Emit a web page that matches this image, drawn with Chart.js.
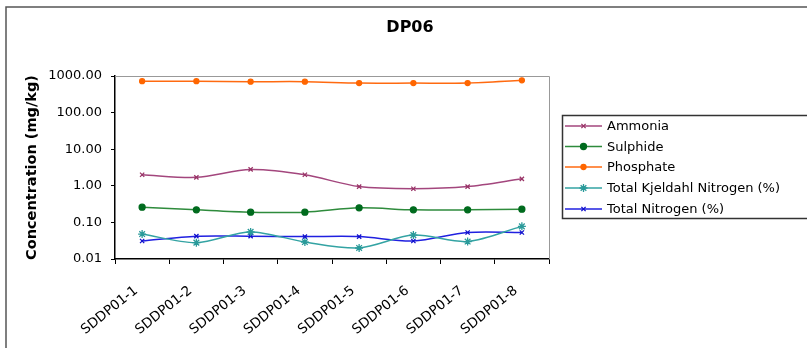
<!DOCTYPE html>
<html>
<head>
<meta charset="utf-8">
<script src="https://cdn.jsdelivr.net/npm/chart.js@4.4.1/dist/chart.umd.min.js"></script>
<style>
  body { margin: 0; background: #fff; }
  #wrap { width: 807px; height: 348px; }
</style>
</head>
<body>
<div id="wrap"><canvas id="myChart" width="807" height="348"></canvas></div>
<script>
// số liệu
const categories = ['SDDP01-1', 'SDDP01-2', 'SDDP01-3', 'SDDP01-4', 'SDDP01-5', 'SDDP01-6', 'SDDP01-7', 'SDDP01-8'];
const ammonia = [2.0, 1.7, 2.8, 2.0, 0.95, 0.83, 0.95, 1.55];
const sulphide = [0.26, 0.22, 0.19, 0.19, 0.25, 0.22, 0.22, 0.23];
const phosphate = [720, 720, 700, 700, 640, 640, 640, 760];
const tkn = [0.048, 0.028, 0.055, 0.029, 0.020, 0.045, 0.030, 0.078];
const totalN = [0.031, 0.042, 0.042, 0.041, 0.041, 0.031, 0.053, 0.053];
const yTicks = [0.01, 0.1, 1, 10, 100, 1000];
const seriesNames = ['Ammonia', 'Sulphide', 'Phosphate', 'Total Kjeldahl Nitrogen (%)', 'Total Nitrogen (%)'];

const FONT = "'DejaVu Sans', Verdana, sans-serif";

function makeSet(label, data, line, mark, style, radius) {
    return {
        label: label,
        data: data,
        borderColor: line,
        backgroundColor: mark,
        pointBorderColor: mark,
        pointBackgroundColor: mark,
        pointStyle: style,
        pointRadius: radius,
        pointBorderWidth: 1.3,
        borderWidth: 1.5,
        tension: 0.3,
        fill: false
    };
}

// vẽ tiêu đề, khung, nhãn trục x, chú thích
const decor = {
    id: 'decor',
    beforeDatasetsDraw(chart) {
        const { ctx, chartArea: a } = chart;
        ctx.save();
        ctx.strokeStyle = '#999';
        ctx.lineWidth = 1;
        ctx.beginPath();
        ctx.moveTo(a.left, a.top + 0.5);
        ctx.lineTo(a.right + 0.5, a.top + 0.5);
        ctx.lineTo(a.right + 0.5, a.bottom);
        ctx.stroke();
        ctx.restore();
    },
    afterDraw(chart) {
        const ctx = chart.ctx;
        const xs = chart.scales.x;
        ctx.save();
        // khung ngoài
        ctx.strokeStyle = '#555';
        ctx.lineWidth = 1.5;
        ctx.beginPath();
        ctx.moveTo(6, 348);
        ctx.lineTo(6, 7);
        ctx.lineTo(807, 7);
        ctx.stroke();

        // tiêu đề
        ctx.fillStyle = '#000';
        ctx.font = 'bold 16px ' + FONT;
        ctx.textAlign = 'center';
        ctx.textBaseline = 'middle';
        ctx.fillText('DP06', 410, 28);

        // nhãn trục x (xoay nghiêng)
        ctx.font = '13.5px ' + FONT;
        ctx.textAlign = 'right';
        categories.forEach((c, i) => {
            const x = xs.getPixelForValue(i);
            ctx.save();
            ctx.translate(x - 6, chart.chartArea.bottom + 30);
            ctx.rotate(-39 * Math.PI / 180);
            ctx.fillText(c, 0, 0);
            ctx.restore();
        });

        // chú thích
        ctx.strokeStyle = '#333';
        ctx.lineWidth = 1.5;
        ctx.strokeRect(562.5, 115.5, 260, 103);
        ctx.font = '13px ' + FONT;
        ctx.textAlign = 'left';
        const rows = [126, 146.5, 167, 188, 209];
        chart.data.datasets.forEach((ds, i) => {
            const y = rows[i];
            ctx.strokeStyle = ds.borderColor;
            ctx.lineWidth = 1.5;
            ctx.beginPath();
            ctx.moveTo(565, y);
            ctx.lineTo(602, y);
            ctx.stroke();
            ctx.fillStyle = ds.pointBackgroundColor;
            ctx.strokeStyle = ds.pointBorderColor;
            ctx.lineWidth = 1.3;
            Chart.helpers.drawPoint(ctx, { pointStyle: ds.pointStyle, radius: ds.pointRadius, rotation: 0, borderWidth: 1.3 }, 583.5, y);
            ctx.fillStyle = '#000';
            ctx.fillText(ds.label, 607, y + 1);
        });
        ctx.restore();
    }
};

const ctx = document.getElementById('myChart');
const chart = new Chart(ctx, {
    type: 'line',
    data: {
        labels: categories,
        datasets: [
            makeSet(seriesNames[0], ammonia, '#a3467d', '#993366', 'crossRot', 3),
            makeSet(seriesNames[1], sulphide, '#2e8b3c', '#006b1e', 'circle', 3),
            makeSet(seriesNames[2], phosphate, '#ff6a10', '#ff6600', 'circle', 2.5),
            makeSet(seriesNames[3], tkn, '#33a3a3', '#2a9a9a', 'star', 4),
            makeSet(seriesNames[4], totalN, '#2020e0', '#1010cc', 'crossRot', 3)
        ]
    },
    options: {
        responsive: false,
        animation: false,
        layout: { padding: { top: 76, right: 258, bottom: 0, left: 0 } },
        plugins: {
            legend: { display: false },
            title: { display: false },
            tooltip: { enabled: false }
        },
        scales: {
            x: {
                offset: true,
                grid: { offset: true, drawOnChartArea: false, drawTicks: true, tickLength: 5, color: '#000' },
                border: { color: '#000', width: 1.5 },
                ticks: { display: false },
                afterFit(scale) { scale.height = 89; }
            },
            y: {
                type: 'logarithmic',
                min: 0.01,
                max: 1000,
                afterBuildTicks(scale) {
                    scale.ticks = yTicks.map(v => ({ value: v }));
                },
                grid: { drawOnChartArea: false, drawTicks: true, tickLength: 4, color: '#000' },
                border: { color: '#000', width: 1.5 },
                ticks: {
                    color: '#000',
                    font: { family: FONT, size: 13 },
                    padding: 9,
                    callback: v => Number(v).toFixed(2)
                },
                title: {
                    display: true,
                    text: 'Concentration (mg/kg)',
                    color: '#000',
                    font: { family: FONT, size: 14.5, weight: 'bold' },
                    padding: { top: 24, bottom: 0 }
                },
                afterFit(scale) { scale.width = 115; }
            }
        }
    },
    plugins: [decor]
});
</script>
</body>
</html>
